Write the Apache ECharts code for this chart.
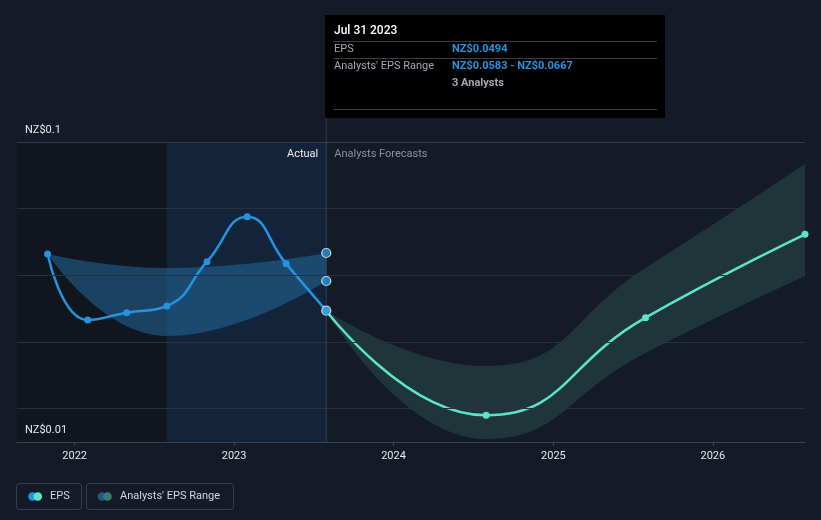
<!DOCTYPE html>
<html>
<head>
<meta charset="utf-8">
<script src="https://cdn.jsdelivr.net/npm/echarts@6/dist/echarts.min.js"></script>
<style>
html,body{margin:0;padding:0;background:#151b26;}
#c{width:821px;height:520px;}
</style>
</head>
<body>
<div id="c"></div>
<script>
// ---- data ----
const actualDates = ['2021-10-31','2022-01-31','2022-04-30','2022-07-31','2022-10-31','2023-01-31','2023-04-30','2023-07-31'];
const epsActual = [0.0664,0.0466,0.0488,0.0508,0.0641,0.0776,0.0635,0.0494];
const pastRangeDates = ['2021-10-31','2022-07-31','2023-07-31'];
const pastLow = [0.0664,0.0418,0.0583];
const pastHigh = [0.0664,0.0622,0.0667];
const forecastDates = ['2023-07-31','2024-07-31','2025-07-31','2026-07-31'];
const epsForecast = [0.0494,0.0180,0.0473,0.0723];
const forecastLow = [0.0494,0.0109,0.0367,0.0598];
const forecastHigh = [0.0494,0.0328,0.0622,0.0934];
const gridValues = [0.02,0.04,0.06,0.08];
const yLabelTop = 0.1, yLabelBottom = 0.01;
const xMin = '2021-08-22', xMax = '2026-07-31';
const pastStart = '2022-07-31', nowDate = '2023-07-31';
const tipDate = 'Jul 31 2023';
const tipEps = 'NZ$0.0494';
const tipRange = 'NZ$0.0583 - NZ$0.0667';
const tipAnalysts = '3 Analysts';
const highlightPoints = [0.0494, 0.0583, 0.0667];

const BLUE = '#2394df', TEAL = '#5de4c7';
const FONT = 'Roboto, "Noto Sans", sans-serif';

const chart = echarts.init(document.getElementById('c'), null, {renderer:'canvas'});
const pair = (d, v) => d.map((x, i) => [x, v[i]]);

const option = {
  backgroundColor: '#151b26',
  animation: false,
  textStyle: {fontFamily: FONT},
  grid: {left: 17, right: 16, top: 142, bottom: 78},
  xAxis: {
    type: 'time', min: xMin, max: xMax,
    splitNumber: 5,
    minInterval: 365*24*3600*1000,
    axisLine: {lineStyle: {color: '#3d434d', width: 1}},
    axisTick: {show: true, length: 4, lineStyle: {color: '#3d434d'}},
    axisLabel: {color: '#e6e8eb', fontSize: 11, margin: 9, formatter: '{yyyy}', showMinLabel: false, showMaxLabel: false, fontFamily: FONT},
    splitLine: {show: false}
  },
  yAxis: {
    type: 'value', min: 0.01, max: 0.1,
    axisLine: {show: false}, axisTick: {show: false}, axisLabel: {show: false}, splitLine: {show: false}
  },
  series: [
    { // background areas + grid lines
      type: 'line', data: [], silent: true, z: 0,
      markArea: {
        silent: true,
        data: [
          [{xAxis: xMin, itemStyle: {color: '#11161e'}}, {xAxis: pastStart}],
          [{xAxis: pastStart, itemStyle: {color: '#13243a'}}, {xAxis: nowDate}]
        ]
      },
      markLine: {
        silent: true, symbol: 'none',
        lineStyle: {color: '#2b313b', width: 1, type: 'solid'},
        label: {show: false},
        data: gridValues.map(v => ({yAxis: v})).concat([
          {yAxis: yLabelTop, lineStyle: {color: '#363c46'}, label: {show: true, position: 'insideStartTop', formatter: 'NZ$0.1', color: '#e6e8eb', fontSize: 11, distance: [8, 6], fontFamily: FONT}},
          {yAxis: yLabelBottom, lineStyle: {color: '#3d434d'}, label: {show: true, position: 'insideStartTop', formatter: 'NZ$0.01', color: '#e6e8eb', fontSize: 11, distance: [8, 6], fontFamily: FONT}}
        ])
      }
    },
    { // past range low (base)
      type: 'line', stack: 'past', data: pair(pastRangeDates, pastLow), smooth: 0.5,
      symbol: 'none', lineStyle: {width: 0, opacity: 0}, silent: true, z: 1
    },
    { // past range width
      type: 'line', stack: 'past', data: pair(pastRangeDates, pastHigh.map((h, i) => h - pastLow[i])), smooth: 0.5,
      symbol: 'none', lineStyle: {width: 0, opacity: 0}, areaStyle: {color: 'rgba(36,113,169,0.7)'}, silent: true, z: 1
    },
    { // forecast range low
      type: 'line', stack: 'fc', data: pair(forecastDates, forecastLow), smooth: 0.5,
      symbol: 'none', lineStyle: {width: 0, opacity: 0}, silent: true, z: 1
    },
    { // forecast range width
      type: 'line', stack: 'fc', data: pair(forecastDates, forecastHigh.map((h, i) => h - forecastLow[i])), smooth: 0.5,
      symbol: 'none', lineStyle: {width: 0, opacity: 0}, areaStyle: {color: 'rgba(56,118,108,0.42)'}, silent: true, z: 1
    },
    {
      name: 'EPS', type: 'line', data: pair(actualDates, epsActual), smooth: 0.5,
      symbol: 'circle', symbolSize: 7, showSymbol: true,
      lineStyle: {color: BLUE, width: 2.5}, itemStyle: {color: BLUE}, z: 3
    },
    {
      name: 'EPS Forecast', type: 'line', data: pair(forecastDates, epsForecast), smooth: 0.5,
      symbol: 'circle', symbolSize: 7,
      lineStyle: {color: TEAL, width: 2.5}, itemStyle: {color: TEAL}, z: 3
    },
    {
      type: 'scatter', data: highlightPoints.map(v => [nowDate, v]), symbolSize: 9,
      itemStyle: {color: BLUE, borderColor: '#ffffff', borderWidth: 1.2}, z: 5
    }
  ]
};
chart.setOption(option);

const xNow = chart.convertToPixel({xAxisIndex: 0}, echarts.number.parseDate(nowDate).getTime());
const yTop = chart.convertToPixel({yAxisIndex: 0}, 0.1);
const yBot = chart.convertToPixel({yAxisIndex: 0}, 0.01);
const tipX = Math.round(xNow) - 1, tipY = 15, tipW = 340, tipH = 103;
const gray = '#a3a8b0';
const txt = (x, y, s, color, size, weight, align) => ({
  type: 'text', x, y, style: {text: s, fill: color, fontSize: size, fontWeight: weight || 'normal', fontFamily: FONT, textVerticalAlign: 'middle', textAlign: align || 'left'}
});
const hline = (x1, x2, y, color) => ({type: 'line', shape: {x1, y1: y, x2, y2: y}, style: {stroke: color, lineWidth: 1}});

chart.setOption({
  graphic: [
    {type: 'line', shape: {x1: xNow, y1: tipY + tipH, x2: xNow, y2: yBot}, style: {stroke: 'rgba(90,130,170,0.35)', lineWidth: 1}, z: 10},
    {type: 'rect', shape: {x: tipX, y: tipY, width: tipW, height: tipH}, style: {fill: '#000000'}, z: 20},
    Object.assign(txt(tipX + 9, 31, tipDate, '#ffffff', 12, 500), {z: 21}),
    Object.assign(hline(tipX + 8, tipX + tipW - 8, 41.5, '#3a3d42'), {z: 21}),
    Object.assign(txt(tipX + 9, 49, 'EPS', gray, 11), {z: 21}),
    Object.assign(txt(tipX + 127, 49, tipEps, BLUE, 11, 'bold'), {z: 21}),
    Object.assign(hline(tipX + 8, tipX + tipW - 8, 58.5, '#3a3d42'), {z: 21}),
    Object.assign(txt(tipX + 9, 66, "Analysts' EPS Range", gray, 11), {z: 21}),
    Object.assign(txt(tipX + 127, 66, tipRange, BLUE, 11, 'bold'), {z: 21}),
    Object.assign(txt(tipX + 127, 83, tipAnalysts, gray, 11, 'bold'), {z: 21}),
    Object.assign(hline(tipX + 8, tipX + tipW - 8, 109.5, '#3a3d42'), {z: 21}),
    Object.assign(txt(xNow - 8, yTop + 12, 'Actual', '#eef0f2', 11, 'normal', 'right'), {z: 10}),
    Object.assign(txt(xNow + 8, yTop + 12, 'Analysts Forecasts', '#8d929a', 11), {z: 10}),
    // legend
    {type: 'rect', shape: {x: 16.5, y: 483.5, width: 65, height: 26, r: 3}, style: {fill: 'none', stroke: '#3a404a', lineWidth: 1}},
    {type: 'circle', shape: {cx: 32.5, cy: 496.5, r: 4.3}, style: {fill: BLUE}},
    {type: 'circle', shape: {cx: 37.8, cy: 496.5, r: 4.3}, style: {fill: TEAL}},
    txt(50, 496.5, 'EPS', '#d4d7dc', 11),
    {type: 'rect', shape: {x: 86.5, y: 483.5, width: 147, height: 26, r: 3}, style: {fill: 'none', stroke: '#3a404a', lineWidth: 1}},
    {type: 'circle', shape: {cx: 102, cy: 496.5, r: 4.3}, style: {fill: '#1f5a8a'}},
    {type: 'circle', shape: {cx: 107.5, cy: 496.5, r: 4.3}, style: {fill: '#3a7a72'}},
    txt(120, 496.5, "Analysts' EPS Range", '#d4d7dc', 11)
  ]
});
</script>
</body>
</html>
